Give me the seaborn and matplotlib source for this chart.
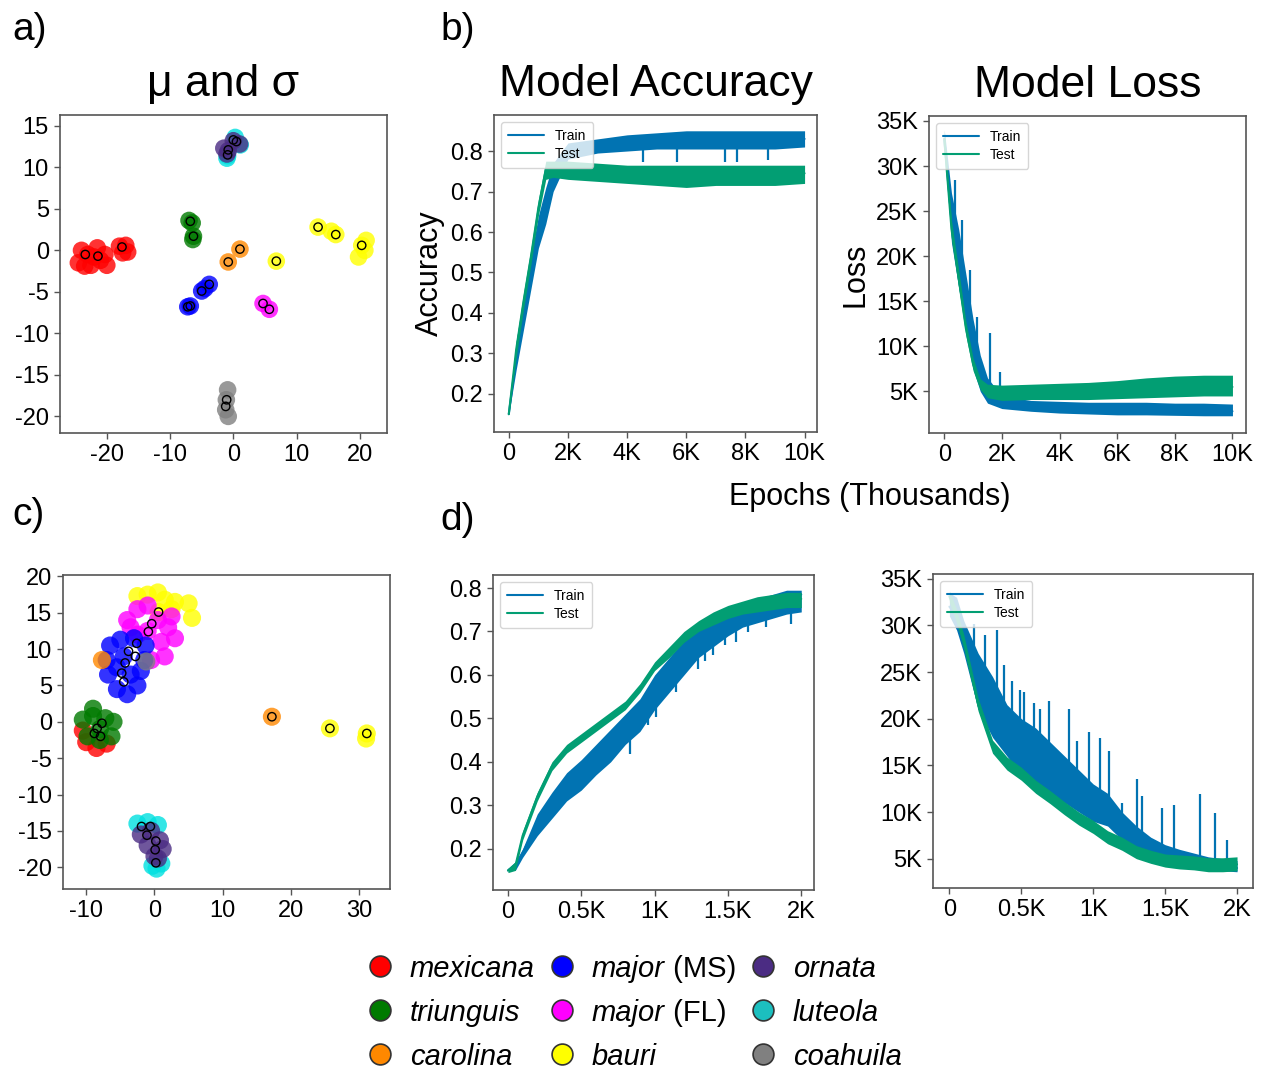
import numpy as np
import pandas as pd
import seaborn as sns
import matplotlib.pyplot as plt
from matplotlib.lines import Line2D
from matplotlib.ticker import FuncFormatter

# ---------------- data ----------------
species = ["mexicana", "triunguis", "carolina", "major (MS)", "major (FL)",
           "bauri", "ornata", "luteola", "coahuila"]
colors = {"mexicana": "#ff0000", "triunguis": "#007a00", "carolina": "#ff8800",
          "major (MS)": "#0000ff", "major (FL)": "#ff00ff", "bauri": "#ffff00",
          "ornata": "#4b2c83", "luteola": "#00e0e0", "coahuila": "#808080"}
draw_order = ["bauri", "major (FL)", "major (MS)", "mexicana", "triunguis",
              "carolina", "luteola", "ornata", "coahuila"]

# panel a) latent clouds (x list, y list) and cluster means
cloud_a = {
    "mexicana": ([-24.5, -24, -23, -22.5, -21.5, -21, -20.3, -23.5, -20, -22, -18, -17, -17.5, -16.7],
                 [-1.5, 0, -0.5, -1.8, 0.3, -1.2, -0.5, -1.9, -1.8, -0.8, 0.5, 0.6, -0.3, -0.2]),
    "triunguis": ([-7, -6.5, -6.3, -6.4], [3.6, 3.3, 1.7, 1.3]),
    "carolina": ([1.05, -0.8], [0.15, -1.4]),
    "major (MS)": ([-5, -3.8, -7.2, -6.8, -4.5], [-4.9, -4.1, -6.8, -6.7, -4.6]),
    "major (FL)": ([4.7, 5.7], [-6.4, -7.1]),
    "bauri": ([6.8, 13.4, 16.2, 15.5, 20.3, 19.8, 21, 20.8], [-1.3, 2.8, 1.9, 2.3, 0.6, -0.8, 1.2, 0]),
    "luteola": ([0.3, -1, 1.1, -0.9], [13.6, 11.1, 12.7, 11.4]),
    "ornata": ([0, -0.8, -1, 1, -1.5], [13.2, 12, 11.6, 12.8, 12.3]),
    "coahuila": ([-0.9, -1.1, -1.2, -0.8], [-16.8, -18, -19.2, -20]),
}
means_a_x = [-23.4, -21.4, -17.6, -6.8, -6.3, 1.05, -0.8, -5, -3.8, -7.2, -6.8,
             4.7, 5.7, 6.8, 13.4, 16.2, 20.3, 0, 0.5, -0.8, -0.9, -1.05, -1.2]
means_a_y = [-0.5, -0.7, 0.4, 3.5, 1.7, 0.15, -1.4, -4.9, -4.1, -6.8, -6.7,
             -6.4, -7.1, -1.3, 2.8, 1.9, 0.6, 13.3, 13.1, 12.1, 11.5, -18.0, -18.8]

# panel c) latent clouds and cluster means
cloud_c = {
    "bauri": ([-2.5, -1, 0.5, 1.5, 3, 5, 5.5, 2.5, 0.6, 25.7, 31.1, 31],
              [17.3, 17.5, 17.8, 16.8, 16.5, 16.3, 14.3, 15.5, 15.1, -0.9, -1.6, -2.3]),
    "major (FL)": ([-4, -2.5, -1, 0.5, 2, 3, 1, -1, -2.5, -3.5, 1.5, -0.5, 2.5],
                   [14, 15.5, 16, 14, 13, 11.5, 11, 12.5, 12, 13, 9, 8.5, 14.5]),
    "major (MS)": ([-6.5, -5, -3, -1.3, -1.5, -2, -2.5, -4, -5.5, -6.8, -7, -4.5, -3.5, -5.5],
                   [10.5, 11.3, 11.5, 10.5, 8.5, 7, 5, 3.8, 4.5, 6.5, 8.5, 9, 6.5, 7.5]),
    "mexicana": ([-10, -8.5, -7, -10.5], [-2.8, -3.6, -3, -1.2]),
    "triunguis": ([-10.5, -9, -7.2, -6, -6.3, -8, -9.8, -9, -8],
                  [0.3, 0.8, 0.5, 0, -2, -2.5, -2, 1.8, -1]),
    "carolina": ([17.2, -7.7], [0.7, 8.5]),
    "luteola": ([-2.5, -1, 0.5, 1, 0.3, -0.3], [-14, -13.8, -14.2, -19.5, -20.2, -19.8]),
    "ornata": ([-2, -0.5, 0.8, 1.2, 0, -1, 0.5], [-15.5, -15, -16.3, -17.5, -18.5, -17, -18.8]),
    "coahuila": ([-1.2], [8.3]),
}
means_c_x = [0.6, 25.7, 31.1, -0.4, -0.9, -2.6, -3.8, -2.8, -4.3, -4.8, -4.5,
             -8.4, -7.7, -7.9, -8.8, 17.2, -1.9, 0.2, -0.6, -1.1, 0.2, 0.1]
means_c_y = [15.1, -0.9, -1.6, 13.5, 12.4, 10.8, 9.7, 9.0, 8.1, 6.7, 5.5,
             -0.9, -0.2, -2.0, -1.6, 0.7, -14.4, -19.4, -14.4, -15.6, -16.4, -17.6]

# panel b) training curves (10K epochs)
ep_b = [0, 250, 500, 750, 1000, 1250, 1500, 2000, 3000, 4000, 5000, 6000, 7000, 8000, 9000, 10000]
train_acc_b = [0.15, 0.29, 0.40, 0.50, 0.60, 0.67, 0.74, 0.80, 0.815, 0.82, 0.825, 0.83, 0.83, 0.83, 0.83, 0.83]
train_acc_b_lo = [0.15, 0.26, 0.36, 0.46, 0.56, 0.62, 0.70, 0.78, 0.795, 0.80, 0.805, 0.805, 0.805, 0.805, 0.805, 0.81]
train_acc_b_hi = [0.16, 0.33, 0.44, 0.54, 0.64, 0.71, 0.77, 0.82, 0.83, 0.84, 0.845, 0.85, 0.85, 0.85, 0.85, 0.85]
test_acc_b = [0.15, 0.31, 0.43, 0.54, 0.66, 0.755, 0.76, 0.755, 0.75, 0.745, 0.74, 0.74, 0.74, 0.74, 0.74, 0.745]
test_acc_b_lo = [0.15, 0.29, 0.41, 0.52, 0.64, 0.73, 0.735, 0.73, 0.725, 0.72, 0.715, 0.71, 0.715, 0.715, 0.715, 0.72]
test_acc_b_hi = [0.16, 0.33, 0.45, 0.56, 0.68, 0.775, 0.775, 0.775, 0.77, 0.765, 0.765, 0.765, 0.765, 0.765, 0.765, 0.765]
train_loss_b = [33000, 24000, 19500, 15000, 10000, 6500, 4800, 3700, 3300, 3100, 3000, 2900, 2900, 2850, 2800, 2800]
train_loss_b_lo = [32000, 21500, 16500, 12000, 7500, 5000, 3700, 3100, 2800, 2600, 2500, 2400, 2400, 2350, 2300, 2300]
train_loss_b_hi = [34000, 27000, 23000, 18000, 13000, 9000, 6500, 4500, 4000, 3900, 3800, 3800, 3800, 3700, 3700, 3600]
test_loss_b = [33000, 23000, 17500, 12000, 8000, 5800, 5000, 4800, 4900, 5000, 5000, 5100, 5300, 5400, 5500, 5500]
test_loss_b_lo = [32500, 22000, 16500, 11200, 7300, 5200, 4300, 4000, 4100, 4100, 4100, 4200, 4300, 4400, 4500, 4500]
test_loss_b_hi = [34000, 24000, 18500, 12800, 8700, 6400, 5800, 5700, 5800, 5900, 6000, 6200, 6500, 6700, 6800, 6800]

# single-epoch outliers of the train curves (epoch, curve value, extreme)
spike_acc_b_ep = [4540, 5670, 7310, 7710, 8780]
spike_acc_b_from = [0.82, 0.82, 0.82, 0.82, 0.82]
spike_acc_b_to = [0.774, 0.774, 0.774, 0.774, 0.778]
spike_loss_b_ep = [382, 613, 900, 1133, 1572, 1942]
spike_loss_b_from = [21500, 17500, 12000, 8000, 4600, 3800]
spike_loss_b_to = [28500, 24000, 18500, 13300, 11460, 7200]

# panel d) training curves (2K epochs)
ep_d = [0, 50, 100, 200, 300, 400, 500, 600, 700, 800, 900, 1000, 1100, 1200, 1300, 1400, 1500, 1600, 1700, 1800, 1900, 2000]
train_acc_d = [0.15, 0.16, 0.19, 0.26, 0.31, 0.355, 0.385, 0.42, 0.455, 0.49, 0.525, 0.58, 0.62, 0.66, 0.70, 0.72, 0.74, 0.755, 0.765, 0.775, 0.785, 0.785]
train_acc_d_lo = [0.15, 0.15, 0.18, 0.23, 0.27, 0.31, 0.335, 0.37, 0.40, 0.44, 0.47, 0.52, 0.56, 0.60, 0.64, 0.665, 0.69, 0.71, 0.72, 0.73, 0.74, 0.745]
train_acc_d_hi = [0.155, 0.17, 0.20, 0.28, 0.33, 0.375, 0.405, 0.44, 0.475, 0.51, 0.545, 0.60, 0.64, 0.68, 0.715, 0.735, 0.755, 0.765, 0.775, 0.785, 0.795, 0.795]
test_acc_d = [0.15, 0.16, 0.23, 0.32, 0.39, 0.43, 0.455, 0.48, 0.505, 0.53, 0.57, 0.62, 0.655, 0.69, 0.715, 0.73, 0.745, 0.755, 0.765, 0.77, 0.775, 0.775]
test_acc_d_lo = [0.145, 0.15, 0.22, 0.31, 0.38, 0.42, 0.445, 0.47, 0.495, 0.52, 0.56, 0.61, 0.64, 0.675, 0.70, 0.715, 0.73, 0.74, 0.745, 0.75, 0.755, 0.755]
test_acc_d_hi = [0.155, 0.17, 0.24, 0.33, 0.40, 0.44, 0.465, 0.49, 0.515, 0.54, 0.58, 0.63, 0.665, 0.70, 0.725, 0.745, 0.76, 0.77, 0.78, 0.785, 0.79, 0.79]
train_loss_d = [32000, 31000, 29000, 25000, 22000, 19000, 17500, 16000, 14500, 13500, 12500, 11000, 10000, 8500, 7000, 6000, 5300, 5000, 4600, 4300, 4100, 4000]
train_loss_d_lo = [31000, 29500, 27000, 21000, 18000, 16000, 14000, 13000, 12000, 11000, 10000, 9000, 8500, 7000, 6000, 5000, 4500, 4300, 4000, 3900, 3700, 3600]
train_loss_d_hi = [33500, 33000, 30500, 27000, 24500, 21500, 20000, 19000, 17500, 16000, 14500, 13000, 12000, 10000, 8500, 7300, 6500, 6000, 5600, 5200, 5000, 4800]
test_loss_d = [33100, 31000, 28300, 21500, 17000, 15200, 14100, 12700, 11600, 10400, 9300, 8400, 7300, 6600, 5700, 5200, 4800, 4600, 4500, 4300, 4300, 4400]
test_loss_d_lo = [32500, 30300, 27600, 20800, 16300, 14500, 13400, 12000, 10900, 9700, 8600, 7700, 6600, 5900, 5000, 4500, 4100, 3900, 3800, 3600, 3600, 3700]
test_loss_d_hi = [33700, 31700, 29000, 22200, 17700, 15900, 14800, 13400, 12300, 11100, 10000, 9100, 8000, 7300, 6400, 5900, 5500, 5400, 5300, 5100, 5100, 5200]

spike_acc_d_ep = [625, 830, 955, 1011, 1148, 1295, 1341, 1398, 1477, 1557, 1636, 1761, 1932]
spike_acc_d_from = [0.43, 0.50, 0.55, 0.585, 0.64, 0.70, 0.71, 0.72, 0.735, 0.75, 0.76, 0.77, 0.785]
spike_acc_d_to = [0.396, 0.419, 0.484, 0.503, 0.56, 0.614, 0.633, 0.645, 0.668, 0.675, 0.698, 0.71, 0.717]
spike_loss_d_ep = [174, 250, 331, 378, 436, 489, 517, 586, 633, 691, 830, 888, 969, 1050, 1108, 1200,
                   1305, 1340, 1478, 1560, 1745, 1849, 1930]
spike_loss_d_from = [26000, 24000, 21000, 20500, 18500, 17600, 17300, 16200, 15500, 14600, 13200, 12600,
                     11500, 10500, 9900, 8500, 7000, 6600, 5500, 5100, 4500, 4200, 4100]
spike_loss_d_to = [30100, 29000, 29500, 25700, 24000, 23100, 22900, 21700, 21000, 21900, 21000, 17600,
                   18600, 17900, 16500, 11000, 13500, 11700, 10400, 10800, 11900, 9900, 7000]

# ---------------- style ----------------
sns.set_theme(style="ticks")
plt.rcParams["font.family"] = ["Liberation Sans", "DejaVu Sans"]
plt.rcParams["axes.unicode_minus"] = False
for key in ["text.color", "axes.labelcolor", "xtick.labelcolor", "ytick.labelcolor"]:
    plt.rcParams[key] = "black"
line_pal = {"Train": "#0173b2", "Test": "#029e73"}

W, H = 1268, 1070
fig = plt.figure(figsize=(W / 100, H / 100), dpi=100)


def px_axes(left, top, right, bottom):
    return fig.add_axes([left / W, 1 - bottom / H, (right - left) / W, (bottom - top) / H])


def style_ax(ax):
    for sp in ax.spines.values():
        sp.set_color("#555555")
        sp.set_linewidth(1.2)
    ax.tick_params(labelsize=17, length=4, width=1, color="#555555", pad=4, labelcolor="black")
    ax.set_xlabel("")
    ax.set_ylabel("")


def kfmt(v, pos):
    if abs(v) < 1e-9:
        return "0"
    return f"{v / 1000:g}K"


def scatter_panel(ax, clouds, mx, my, s_cloud):
    for sp in draw_order:
        xs, ys = clouds[sp]
        df = pd.DataFrame({"x": xs, "y": ys})
        sns.scatterplot(data=df, x="x", y="y", color=colors[sp], s=s_cloud, alpha=0.8,
                        edgecolor="none", ax=ax, legend=False)
    dm = pd.DataFrame({"x": mx, "y": my})
    sns.scatterplot(data=dm, x="x", y="y", marker="o", facecolor="none",
                    edgecolor="black", linewidth=1.0, s=36, ax=ax, legend=False)
    style_ax(ax)


def curve_panel(ax, ep, tr, tr_lo, tr_hi, te, te_lo, te_hi, spikes):
    df = pd.DataFrame({"epoch": ep * 2, "val": tr + te,
                       "set": ["Train"] * len(ep) + ["Test"] * len(ep)})
    ax.fill_between(ep, tr_lo, tr_hi, color=line_pal["Train"], lw=0)
    sp_ep, sp_from, sp_to = spikes
    ax.vlines(sp_ep, sp_from, sp_to, color=line_pal["Train"], lw=1.6)
    ax.fill_between(ep, te_lo, te_hi, color=line_pal["Test"], lw=0, zorder=2.5)
    sns.lineplot(data=df, x="epoch", y="val", hue="set", palette=line_pal, lw=1.5, ax=ax)
    leg = ax.legend(loc="upper left", fontsize=10, handlelength=2.6, borderpad=0.5,
                    labelspacing=0.3, framealpha=0.8)
    leg.get_frame().set_edgecolor("#cccccc")
    ax.xaxis.set_major_formatter(FuncFormatter(kfmt))
    style_ax(ax)


# a) latent scatter
ax_a = px_axes(60, 115, 387, 433)
scatter_panel(ax_a, cloud_a, means_a_x, means_a_y, 160)
ax_a.set_xlim(-27.4, 24.3)
ax_a.set_ylim(-22.0, 16.3)
ax_a.set_xticks([-20, -10, 0, 10, 20])
ax_a.set_yticks([15, 10, 5, 0, -5, -10, -15, -20])
ax_a.set_title("\u03bc and \u03c3", fontsize=32, pad=14)

# b) accuracy / loss over 10K epochs
ax_b1 = px_axes(494, 115, 817, 432)
curve_panel(ax_b1, ep_b, train_acc_b, train_acc_b_lo, train_acc_b_hi,
            test_acc_b, test_acc_b_lo, test_acc_b_hi,
            (spike_acc_b_ep, spike_acc_b_from, spike_acc_b_to))
ax_b1.set_xlim(-500, 10420)
ax_b1.set_ylim(0.106, 0.889)
ax_b1.set_xticks([0, 2000, 4000, 6000, 8000, 10000])
ax_b1.set_yticks([0.2, 0.3, 0.4, 0.5, 0.6, 0.7, 0.8])
ax_b1.set_ylabel("Accuracy", fontsize=22, labelpad=4)
ax_b1.set_title("Model Accuracy", fontsize=32, pad=14)

ax_b2 = px_axes(929, 116, 1246, 433)
curve_panel(ax_b2, ep_b, train_loss_b, train_loss_b_lo, train_loss_b_hi,
            test_loss_b, test_loss_b_lo, test_loss_b_hi,
            (spike_loss_b_ep, spike_loss_b_from, spike_loss_b_to))
ax_b2.set_xlim(-530, 10470)
ax_b2.set_ylim(390, 35550)
ax_b2.set_xticks([0, 2000, 4000, 6000, 8000, 10000])
ax_b2.set_yticks([5000, 10000, 15000, 20000, 25000, 30000, 35000])
ax_b2.yaxis.set_major_formatter(FuncFormatter(kfmt))
ax_b2.set_ylabel("Loss", fontsize=22, labelpad=4)
ax_b2.set_title("Model Loss", fontsize=32, pad=14)

# c) latent scatter
ax_c = px_axes(63, 575, 390, 889)
scatter_panel(ax_c, cloud_c, means_c_x, means_c_y, 170)
ax_c.set_xlim(-13.4, 34.5)
ax_c.set_ylim(-23.0, 20.2)
ax_c.set_xticks([-10, 0, 10, 20, 30])
ax_c.set_yticks([20, 15, 10, 5, 0, -5, -10, -15, -20])

# d) accuracy / loss over 2K epochs
ax_d1 = px_axes(493, 575, 814, 890)
curve_panel(ax_d1, ep_d, train_acc_d, train_acc_d_lo, train_acc_d_hi,
            test_acc_d, test_acc_d_lo, test_acc_d_hi,
            (spike_acc_d_ep, spike_acc_d_from, spike_acc_d_to))
ax_d1.set_xlim(-102, 2087)
ax_d1.set_ylim(0.105, 0.83)
ax_d1.set_xticks([0, 500, 1000, 1500, 2000])
ax_d1.set_yticks([0.2, 0.3, 0.4, 0.5, 0.6, 0.7, 0.8])

ax_d2 = px_axes(933, 574, 1253, 888)
curve_panel(ax_d2, ep_d, train_loss_d, train_loss_d_lo, train_loss_d_hi,
            test_loss_d, test_loss_d_lo, test_loss_d_hi,
            (spike_loss_d_ep, spike_loss_d_from, spike_loss_d_to))
ax_d2.set_xlim(-114, 2111)
ax_d2.set_ylim(1860, 35500)
ax_d2.set_xticks([0, 500, 1000, 1500, 2000])
ax_d2.set_yticks([5000, 10000, 15000, 20000, 25000, 30000, 35000])
ax_d2.yaxis.set_major_formatter(FuncFormatter(kfmt))

# shared labels
fig.text(870 / W, 1 - 497 / H, "Epochs (Thousands)", fontsize=22, ha="center", va="center")
for lbl, x, y in [("a)", 12, 30), ("b)", 440, 30), ("c)", 12, 515), ("d)", 440, 520)]:
    fig.text(x / W, 1 - y / H, lbl, fontsize=28, ha="left", va="center")

# species legend (3 columns x 3 rows, italic species names)
col_x = [380, 562, 763]
row_y = [966, 1010, 1054]
renderer = fig.canvas.get_renderer()
for i, sp in enumerate(species):
    cx, cy = col_x[i // 3], row_y[i % 3]
    mcol = colors[sp] if sp != "luteola" else "#1cbfbf"
    fig.add_artist(Line2D([cx / W], [1 - cy / H], marker="o", ls="", markersize=15,
                          markerfacecolor=mcol, markeredgecolor="#333333",
                          markeredgewidth=1.2, transform=fig.transFigure))
    name = sp.split(" ")[0]
    t = fig.text((cx + 30) / W, 1 - cy / H, name, fontsize=21, style="italic",
                 ha="left", va="center_baseline")
    if " " in sp:
        bb = t.get_window_extent(renderer=renderer)
        fig.text(bb.x1 / W, 1 - cy / H, " " + sp.split(" ")[1], fontsize=21,
                 ha="left", va="center_baseline")

fig.savefig("out.png", dpi=100)
